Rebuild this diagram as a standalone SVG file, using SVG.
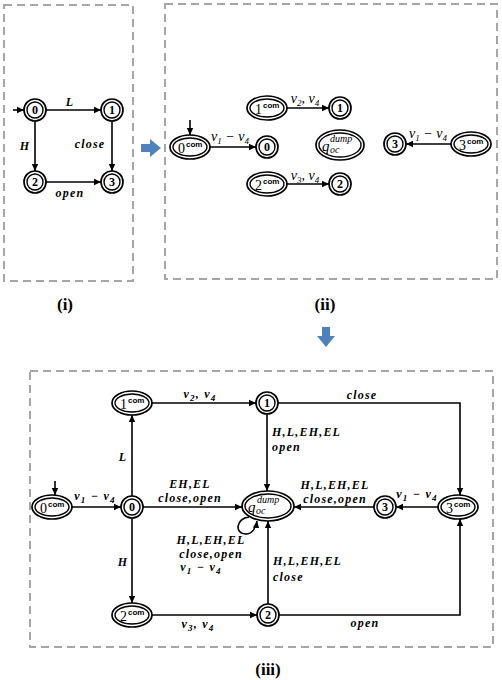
<svg xmlns="http://www.w3.org/2000/svg" width="502" height="680" viewBox="0 0 502 680">
<style>
.box{fill:none;stroke:#a6a6a6;stroke-width:2;stroke-dasharray:8 5}
.n{fill:#fff;stroke:#000;stroke-width:1.7}
.ni{fill:none;stroke:#000;stroke-width:1.4}
.e{fill:none;stroke:#000;stroke-width:1.6;marker-end:url(#ah)}
.lbl{font-family:"Liberation Serif",serif;font-weight:bold;font-style:italic;font-size:12px;letter-spacing:1.2px}
.lb2{font-family:"Liberation Serif",serif;font-style:italic;font-size:14px}
.nt{font-family:"Liberation Serif",serif;font-weight:bold;font-size:12px;text-anchor:middle}
.ct{font-family:"Liberation Serif",serif;font-size:14px}
.sup{font-family:"Liberation Sans",sans-serif;font-weight:bold;font-size:8px}
.qt{font-family:"Liberation Serif",serif;font-style:italic}
.pl{font-family:"Liberation Serif",serif;font-weight:bold;font-size:17px;text-anchor:middle}
.blue{fill:#4f81bd}
</style>
<defs>
<marker id="ah" markerWidth="8" markerHeight="8" refX="7" refY="4" orient="auto" markerUnits="userSpaceOnUse">
<path d="M0,0.8 L7,4 L0,7.2 Z" fill="#000"/>
</marker>
</defs>

<rect class="box" x="4" y="5" width="129" height="276"/>
<rect class="box" x="165" y="4" width="332" height="275"/>
<rect class="box" x="30" y="371" width="463" height="276"/>

<path class="blue" d="M141,144 L150,144 L150,139 L161,148 L150,157 L150,152 L141,152 Z"/>
<path class="blue" d="M322,327 L330,327 L330,336 L335,336 L326,347 L317,336 L322,336 Z"/>

<text class="pl" x="65" y="310">(i)</text>
<text class="pl" x="325" y="310">(ii)</text>
<text class="pl" x="268" y="675">(iii)</text>

<g id="connectors">
<path class="e" d="M13,110 L24,110"/>
<path class="e" d="M46,110 L101,110"/>
<path class="e" d="M35,121 L35,171"/>
<path class="e" d="M112,121 L112,171"/>
<path class="e" d="M46,182 L101,182"/>

<path class="e" d="M190,120 L190,135"/>
<path class="e" d="M210,147 L256,147"/>
<path class="e" d="M287,108 L329,108"/>
<path class="e" d="M287,184 L329,184"/>
<path class="e" d="M451,144 L406,144"/>

<path class="e" d="M55,481 L55,495"/>
<path class="e" d="M72,507 L121,507"/>
<path class="e" d="M132,496 L132,415"/>
<path class="e" d="M152,403 L256,403"/>
<path class="e" d="M278,403 L460,403 L460,495"/>
<path class="e" d="M267,414 L267,491"/>
<path class="e" d="M143,507 L242,507"/>
<path class="e" d="M374,507 L294,507"/>
<path class="e" d="M438,507 L396,507"/>
<path class="e" d="M132,518 L132,603"/>
<path class="e" d="M152,615 L257,615"/>
<path class="e" d="M268,604 L268,521"/>
<path class="e" d="M279,615 L460,615 L460,519"/>
<path class="e" d="M249,517 C236,518 234,534 246,534 C252,534 256,528 257,521"/>
</g>

<g id="labels">
<text class="lbl" x="70" y="106" text-anchor="middle">L</text>
<text class="lbl" x="25" y="150" text-anchor="middle">H</text>
<text class="lbl" x="90" y="148" text-anchor="middle">close</text>
<text class="lbl" x="70" y="197" text-anchor="middle">open</text>

<text class="lb2" x="230" y="141" text-anchor="middle">v<tspan font-size="9" dy="3">1</tspan><tspan dy="-3"> − v</tspan><tspan font-size="9" dy="3">4</tspan></text>
<text class="lb2" x="305" y="103" text-anchor="middle">v<tspan font-size="9" dy="3">2</tspan><tspan dy="-3">, v</tspan><tspan font-size="9" dy="3">4</tspan></text>
<text class="lb2" x="305" y="180" text-anchor="middle">v<tspan font-size="9" dy="3">3</tspan><tspan dy="-3">, v</tspan><tspan font-size="9" dy="3">4</tspan></text>
<text class="lb2" x="428" y="138" text-anchor="middle">v<tspan font-size="9" dy="3">1</tspan><tspan dy="-3"> − v</tspan><tspan font-size="9" dy="3">4</tspan></text>

<text class="lbl" x="95" y="500" text-anchor="middle">v<tspan font-size="9" dy="3">1</tspan><tspan dy="-3"> − v</tspan><tspan font-size="9" dy="3">4</tspan></text>
<text class="lbl" x="123" y="461" text-anchor="middle">L</text>
<text class="lbl" x="200" y="398" text-anchor="middle">v<tspan font-size="9" dy="3">2</tspan><tspan dy="-3">, v</tspan><tspan font-size="9" dy="3">4</tspan></text>
<text class="lbl" x="362" y="399" text-anchor="middle">close</text>
<text class="lbl" x="272" y="436">H,L,EH,EL</text>
<text class="lbl" x="272" y="451">open</text>
<text class="lbl" x="190" y="488" text-anchor="middle">EH,EL</text>
<text class="lbl" x="190" y="502" text-anchor="middle">close,open</text>
<text class="lbl" x="335" y="489" text-anchor="middle">H,L,EH,EL</text>
<text class="lbl" x="335" y="503" text-anchor="middle">close,open</text>
<text class="lbl" x="417" y="498" text-anchor="middle">v<tspan font-size="9" dy="3">1</tspan><tspan dy="-3"> − v</tspan><tspan font-size="9" dy="3">4</tspan></text>
<text class="lbl" x="123" y="566" text-anchor="middle">H</text>
<text class="lbl" x="211" y="544" text-anchor="middle">H,L,EH,EL</text>
<text class="lbl" x="211" y="558" text-anchor="middle">close,open</text>
<text class="lbl" x="201" y="571" text-anchor="middle">v<tspan font-size="9" dy="3">1</tspan><tspan dy="-3"> − v</tspan><tspan font-size="9" dy="3">4</tspan></text>
<text class="lbl" x="273" y="565">H,L,EH,EL</text>
<text class="lbl" x="273" y="581">close</text>
<text class="lbl" x="198" y="628" text-anchor="middle">v<tspan font-size="9" dy="3">3</tspan><tspan dy="-3">, v</tspan><tspan font-size="9" dy="3">4</tspan></text>
<text class="lbl" x="365" y="627" text-anchor="middle">open</text>
</g>

<!-- panel i -->
<g id="i0"><circle class="n" cx="35" cy="110" r="11"/><circle class="ni" cx="35" cy="110" r="8"/><text class="nt" x="35" y="114">0</text></g>
<g id="i1"><circle class="n" cx="112" cy="110" r="11"/><circle class="ni" cx="112" cy="110" r="8"/><text class="nt" x="112" y="114">1</text></g>
<g id="i2"><circle class="n" cx="35" cy="182" r="11"/><circle class="ni" cx="35" cy="182" r="8"/><text class="nt" x="35" y="186">2</text></g>
<g id="i3"><circle class="n" cx="112" cy="182" r="11"/><circle class="ni" cx="112" cy="182" r="8"/><text class="nt" x="112" y="186">3</text></g>

<!-- panel ii -->
<g id="ii0c"><ellipse class="n" cx="190" cy="147" rx="20" ry="12"/><ellipse class="ni" cx="190" cy="147" rx="17" ry="9"/><text class="ct" x="178" y="153">0</text><text class="sup" x="186" y="147">com</text></g>
<g id="ii0"><circle class="n" cx="267" cy="147" r="11"/><circle class="ni" cx="267" cy="147" r="8"/><text class="nt" x="267" y="151">0</text></g>
<g id="ii1c"><ellipse class="n" cx="267" cy="108" rx="20" ry="12"/><ellipse class="ni" cx="267" cy="108" rx="17" ry="9"/><text class="ct" x="255" y="114">1</text><text class="sup" x="263" y="108">com</text></g>
<g id="ii1"><circle class="n" cx="340" cy="108" r="11"/><circle class="ni" cx="340" cy="108" r="8"/><text class="nt" x="340" y="112">1</text></g>
<g id="iiq"><ellipse class="n" cx="340" cy="145" rx="24" ry="15"/><ellipse class="ni" cx="340" cy="145" rx="21" ry="12"/><text class="qt" x="322" y="151" font-size="15">q</text><text class="qt" x="330" y="142" font-size="10">dump</text><text class="qt" x="330" y="153" font-size="10">oc</text></g>
<g id="ii3"><circle class="n" cx="395" cy="144" r="11"/><circle class="ni" cx="395" cy="144" r="8"/><text class="nt" x="395" y="148">3</text></g>
<g id="ii3c"><ellipse class="n" cx="471" cy="144" rx="20" ry="12"/><ellipse class="ni" cx="471" cy="144" rx="17" ry="9"/><text class="ct" x="459" y="150">3</text><text class="sup" x="467" y="144">com</text></g>
<g id="ii2c"><ellipse class="n" cx="267" cy="184" rx="20" ry="12"/><ellipse class="ni" cx="267" cy="184" rx="17" ry="9"/><text class="ct" x="255" y="190">2</text><text class="sup" x="263" y="184">com</text></g>
<g id="ii2"><circle class="n" cx="340" cy="184" r="11"/><circle class="ni" cx="340" cy="184" r="8"/><text class="nt" x="340" y="188">2</text></g>

<!-- panel iii -->
<g id="iii1c"><ellipse class="n" cx="132" cy="403" rx="20" ry="12"/><ellipse class="ni" cx="132" cy="403" rx="17" ry="9"/><text class="ct" x="120" y="409">1</text><text class="sup" x="128" y="403">com</text></g>
<g id="iii1"><circle class="n" cx="267" cy="403" r="11"/><circle class="ni" cx="267" cy="403" r="8"/><text class="nt" x="267" y="407">1</text></g>
<g id="iii0c"><ellipse class="n" cx="52" cy="507" rx="20" ry="12"/><ellipse class="ni" cx="52" cy="507" rx="17" ry="9"/><text class="ct" x="40" y="513">0</text><text class="sup" x="48" y="507">com</text></g>
<g id="iii0"><circle class="n" cx="132" cy="507" r="11"/><circle class="ni" cx="132" cy="507" r="8"/><text class="nt" x="132" y="511">0</text></g>
<g id="iiiq"><ellipse class="n" cx="268" cy="506" rx="26" ry="15"/><ellipse class="ni" cx="268" cy="506" rx="23" ry="12"/><text class="qt" x="248" y="512" font-size="15">q</text><text class="qt" x="257" y="503" font-size="10">dump</text><text class="qt" x="256" y="514" font-size="10">oc</text></g>
<g id="iii3"><circle class="n" cx="385" cy="507" r="11"/><circle class="ni" cx="385" cy="507" r="8"/><text class="nt" x="385" y="511">3</text></g>
<g id="iii3c"><ellipse class="n" cx="458" cy="507" rx="20" ry="12"/><ellipse class="ni" cx="458" cy="507" rx="17" ry="9"/><text class="ct" x="446" y="513">3</text><text class="sup" x="454" y="507">com</text></g>
<g id="iii2c"><ellipse class="n" cx="132" cy="615" rx="20" ry="12"/><ellipse class="ni" cx="132" cy="615" rx="17" ry="9"/><text class="ct" x="120" y="621">2</text><text class="sup" x="128" y="615">com</text></g>
<g id="iii2"><circle class="n" cx="268" cy="615" r="11"/><circle class="ni" cx="268" cy="615" r="8"/><text class="nt" x="268" y="619">2</text></g>
</svg>
